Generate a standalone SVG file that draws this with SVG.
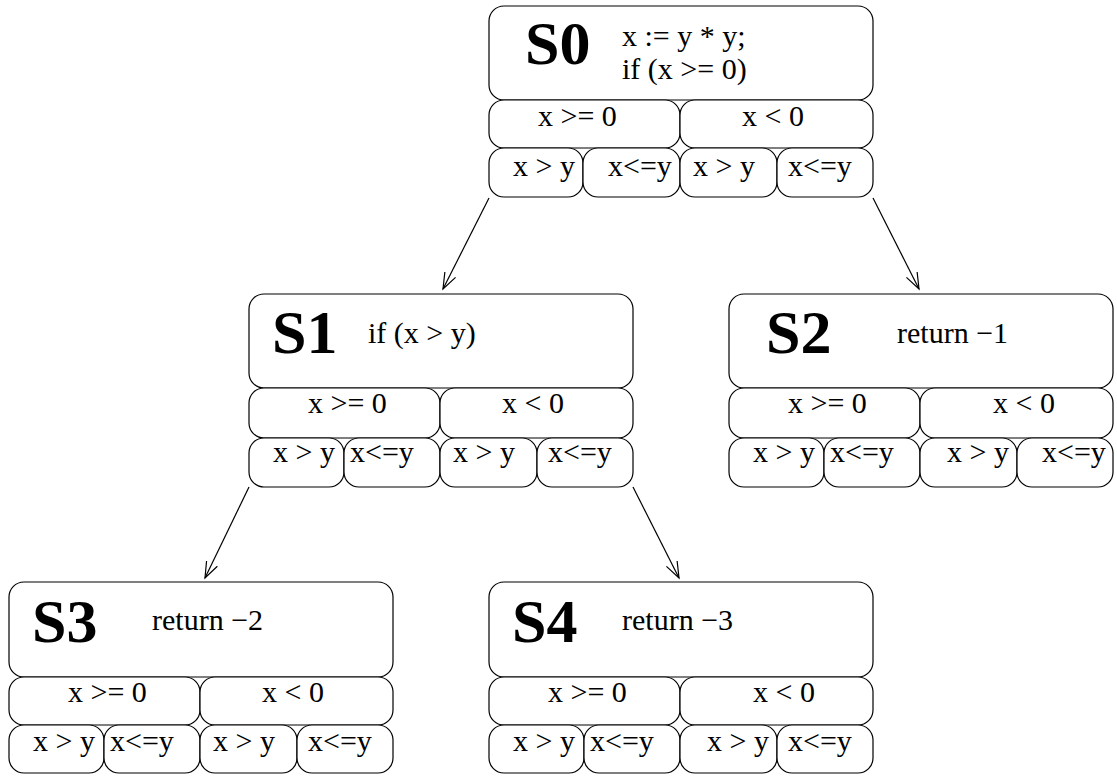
<svg xmlns="http://www.w3.org/2000/svg" width="1117" height="776" viewBox="0 0 1117 776">
<style>
rect{fill:#fff;stroke:#000;stroke-width:1.2}
text{font-family:"Liberation Serif","Times New Roman",serif;fill:#000}
.big{font-size:62px;font-weight:bold}
.t{font-size:30px}
.c{fill:none;stroke:#000;stroke-width:1.2}
</style>
<defs>
<marker id="ah" markerUnits="userSpaceOnUse" markerWidth="20" markerHeight="20" refX="16" refY="6" orient="auto" viewBox="0 0 20 12">
<path d="M0,0 L16,6 L0,12" fill="none" stroke="#000" stroke-width="1.2"/>
</marker>
</defs>
<rect width="1117" height="776" style="fill:#fff;stroke:none"/>
<g id="connectors">
<line class="c" x1="489" y1="198" x2="443" y2="289" marker-end="url(#ah)"/>
<line class="c" x1="873" y1="198" x2="919" y2="289" marker-end="url(#ah)"/>
<line class="c" x1="249" y1="487" x2="205" y2="578" marker-end="url(#ah)"/>
<line class="c" x1="633" y1="487" x2="679" y2="578" marker-end="url(#ah)"/>
</g>
<g id="S0">
<rect x="489" y="6" width="384" height="94" rx="15"/>
<rect x="489" y="100" width="191" height="48" rx="15"/>
<rect x="680" y="100" width="193" height="48" rx="15"/>
<rect x="489" y="148" width="94" height="49" rx="15"/>
<rect x="583" y="148" width="97" height="49" rx="15"/>
<rect x="680" y="148" width="97" height="49" rx="15"/>
<rect x="777" y="148" width="96" height="49" rx="15"/>
<text class="big" x="525" y="64">S0</text>
<text class="t" x="622" y="46">x := y * y;</text>
<text class="t" x="622" y="79">if (x &gt;= 0)</text>
<text class="t" x="538" y="126">x &gt;= 0</text>
<text class="t" x="742" y="126">x &lt; 0</text>
<text class="t" x="513" y="176">x &gt; y</text>
<text class="t" x="608" y="176">x&lt;=y</text>
<text class="t" x="693" y="176">x &gt; y</text>
<text class="t" x="788" y="176">x&lt;=y</text>
</g>
<g id="S1">
<rect x="249" y="294" width="384" height="94" rx="15"/>
<rect x="249" y="388" width="191" height="50" rx="15"/>
<rect x="440" y="388" width="193" height="50" rx="15"/>
<rect x="249" y="438" width="95" height="49" rx="15"/>
<rect x="344" y="438" width="96" height="49" rx="15"/>
<rect x="440" y="438" width="97" height="49" rx="15"/>
<rect x="537" y="438" width="96" height="49" rx="15"/>
<text class="big" x="272" y="353">S1</text>
<text class="t" x="368" y="343">if (x &gt; y)</text>
<text class="t" x="308" y="413">x &gt;= 0</text>
<text class="t" x="502" y="413">x &lt; 0</text>
<text class="t" x="273" y="462">x &gt; y</text>
<text class="t" x="350" y="462">x&lt;=y</text>
<text class="t" x="453" y="462">x &gt; y</text>
<text class="t" x="548" y="462">x&lt;=y</text>
</g>
<g id="S2">
<rect x="729" y="294" width="384" height="94" rx="15"/>
<rect x="729" y="388" width="191" height="50" rx="15"/>
<rect x="920" y="388" width="193" height="50" rx="15"/>
<rect x="729" y="438" width="95" height="49" rx="15"/>
<rect x="824" y="438" width="96" height="49" rx="15"/>
<rect x="920" y="438" width="97" height="49" rx="15"/>
<rect x="1017" y="438" width="96" height="49" rx="15"/>
<text class="big" x="766" y="353">S2</text>
<text class="t" x="897" y="343">return −1</text>
<text class="t" x="788" y="413">x &gt;= 0</text>
<text class="t" x="993" y="413">x &lt; 0</text>
<text class="t" x="753" y="462">x &gt; y</text>
<text class="t" x="830" y="462">x&lt;=y</text>
<text class="t" x="947" y="462">x &gt; y</text>
<text class="t" x="1042" y="462">x&lt;=y</text>
</g>
<g id="S3">
<rect x="9" y="582" width="384" height="95" rx="15"/>
<rect x="9" y="677" width="191" height="48" rx="15"/>
<rect x="200" y="677" width="193" height="48" rx="15"/>
<rect x="9" y="725" width="95" height="48" rx="15"/>
<rect x="104" y="725" width="96" height="48" rx="15"/>
<rect x="200" y="725" width="97" height="48" rx="15"/>
<rect x="297" y="725" width="96" height="48" rx="15"/>
<text class="big" x="32" y="642">S3</text>
<text class="t" x="152" y="630">return −2</text>
<text class="t" x="68" y="702">x &gt;= 0</text>
<text class="t" x="262" y="702">x &lt; 0</text>
<text class="t" x="33" y="751">x &gt; y</text>
<text class="t" x="110" y="751">x&lt;=y</text>
<text class="t" x="213" y="751">x &gt; y</text>
<text class="t" x="308" y="751">x&lt;=y</text>
</g>
<g id="S4">
<rect x="489" y="582" width="384" height="95" rx="15"/>
<rect x="489" y="677" width="191" height="48" rx="15"/>
<rect x="680" y="677" width="193" height="48" rx="15"/>
<rect x="489" y="725" width="95" height="48" rx="15"/>
<rect x="584" y="725" width="96" height="48" rx="15"/>
<rect x="680" y="725" width="97" height="48" rx="15"/>
<rect x="777" y="725" width="96" height="48" rx="15"/>
<text class="big" x="512" y="642">S4</text>
<text class="t" x="622" y="630">return −3</text>
<text class="t" x="548" y="702">x &gt;= 0</text>
<text class="t" x="753" y="702">x &lt; 0</text>
<text class="t" x="513" y="751">x &gt; y</text>
<text class="t" x="590" y="751">x&lt;=y</text>
<text class="t" x="707" y="751">x &gt; y</text>
<text class="t" x="788" y="751">x&lt;=y</text>
</g>
</svg>
